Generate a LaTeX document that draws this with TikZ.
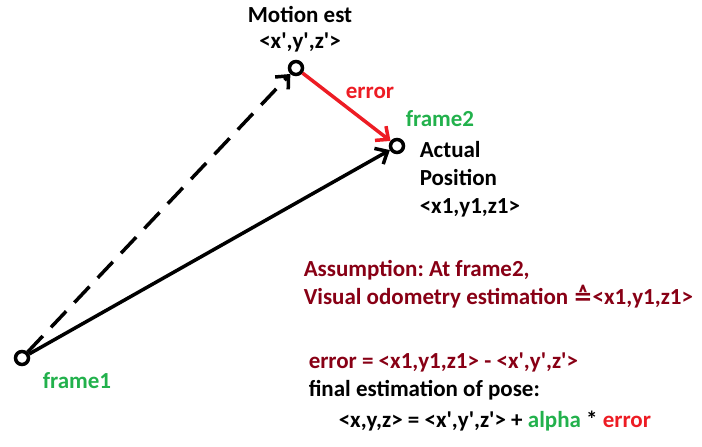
\documentclass[tikz,border=0pt]{standalone}
\usepackage{fontspec}
\setmainfont{Carlito}[Ligatures=TeXOff]
\newfontfamily\symfont{DejaVu Sans}
\usetikzlibrary{arrows.meta}
\frenchspacing
\definecolor{darkred}{RGB}{136,0,21}
\definecolor{paintred}{RGB}{237,28,36}
\definecolor{paintgreen}{RGB}{34,177,76}
\tikzset{
    ring/.style={circle,draw,line width=3.5pt,minimum size=13pt,inner sep=0pt},
    txt/.style={font=\bfseries\fontsize{23}{28}\selectfont,inner sep=0pt,align=left},
    barb/.style={-{Straight Barb[length=10pt,width=18pt,line width=3.5pt]}}
}
\begin{document}
\begin{tikzpicture}[x=1pt, y=-1pt, line width=3.5pt]
    \useasboundingbox (0,0) rectangle (702,447);

    \node[ring] (f1) at (22,358) {};
    \node[ring] (est) at (296,68) {};
    \node[ring] (f2) at (397,146) {};

    \draw[barb,dash pattern=on 22pt off 12pt] (f1) -- (est);
    \draw[barb] (f1) -- (f2);
    \draw[barb,paintred] (est) -- (f2);

    \node[txt,align=center,font=\bfseries\fontsize{23}{26}\selectfont] (esttxt) at (300,29) {Motion est\\<x',y',z'>};
    \node[txt,text=paintred] (errlbl) at (370,93) {error};
    \node[txt,text=paintgreen] (f2lbl) at (440,119) {frame2};
    \node[txt,anchor=north west] (actual) at (418,140) {Actual\\Position\\<x1,y1,z1>};
    \node[txt,text=paintgreen] (f1lbl) at (77,381) {frame1};

    \node[txt,text=darkred,anchor=west] (assume) at (302,284)
        {Assumption: At frame2,\\Visual odometry estimation {\symfont\bfseries\char"2259}<x1,y1,z1>};
    \node[txt,text=darkred,anchor=west] (errdef) at (307,362) {error = <x1,y1,z1> - <x',y',z'>};
    \node[txt,anchor=west] (final) at (307,390) {final estimation of pose:};
    \node[txt,anchor=west] (pose) at (337,421)
        {<x,y,z> = <x',y',z'> + \textcolor{paintgreen}{alpha} * \textcolor{paintred}{error}};
\end{tikzpicture}
\end{document}
